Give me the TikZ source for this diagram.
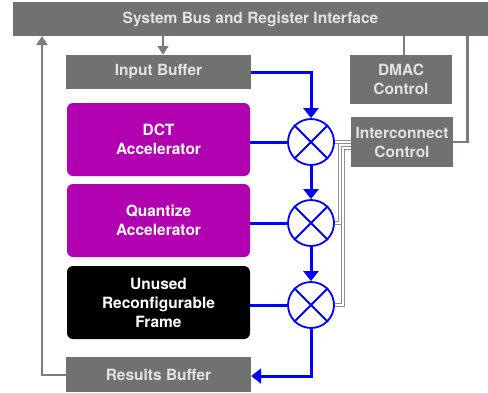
\documentclass[tikz,border=0pt]{standalone}
\usepackage{fontspec}
\setmainfont{TeX Gyre Heros}
\usetikzlibrary{arrows.meta}
\definecolor{boxgray}{HTML}{6F726E}
\definecolor{boxtext}{HTML}{E2E2E2}
\definecolor{accel}{HTML}{B000B0}
\definecolor{datablue}{HTML}{0000FF}
\definecolor{wiregray}{HTML}{7A7D79}
\definecolor{ctlgray}{HTML}{8E8E8E}
\tikzset{
  lbl/.style={font=\fontsize{15.5}{19}\selectfont\bfseries, align=center},
  graybox/.style={lbl, fill=boxgray, text=boxtext, inner sep=0pt},
  accbox/.style={lbl, fill=accel, text=white, rounded corners=6pt, inner sep=0pt,
    minimum width=183pt, minimum height=73pt},
  mux/.style={circle, draw=datablue, line width=1.8pt, fill=white, minimum size=46pt, inner sep=0pt},
  data/.style={draw=datablue, line width=3pt},
  dataarrow/.style={data, -{Triangle[length=10pt,width=15pt]}},
  wire/.style={draw=wiregray, line width=2.6pt},
  wirearrow/.style={wire, -{Triangle[length=9pt,width=11pt]}},
  ctl/.style={draw=ctlgray, line width=0.9pt, double=white, double distance=1.3pt}
}
\begin{document}
\begin{tikzpicture}[x=1pt,y=-1pt]
\useasboundingbox (0,0) rectangle (488,392);

% blocks
\node[graybox, minimum width=475pt, minimum height=34pt] (bus) at (250.5,19) {System Bus and Register Interface};
\node[graybox, minimum width=185pt, minimum height=34pt] (in) at (158.5,72) {Input Buffer};
\node[graybox, minimum width=185pt, minimum height=35pt] (res) at (158.5,374.5) {Results Buffer};
\node[graybox, minimum width=102pt, minimum height=49pt] (dmac) at (401,79.5) {DMAC\\Control};
\node[graybox, minimum width=102pt, minimum height=50pt] (ic) at (402,142) {Interconnect\\Control};

\node[accbox] (dct) at (158.5,139.5) {DCT\\Accelerator};
\node[accbox] (quant) at (158.5,220.5) {Quantize\\Accelerator};
\node[accbox, fill=black] (unused) at (158.5,302.5) {Unused\\Reconfigurable\\Frame};

% switching points
\foreach \n/\y in {c1/142, c2/223, c3/305}{
  \node[mux] (\n) at (311,\y) {};
  \draw[datablue, line width=1.8pt] (\n.north west) -- (\n.south east);
  \draw[datablue, line width=1.8pt] (\n.north east) -- (\n.south west);
}

% data path
\draw[dataarrow] (in.east) -| (c1.north);
\draw[data] (dct.east |- c1.west) -- (c1.west);
\draw[data] (quant.east |- c2.west) -- (c2.west);
\draw[data] (unused.east |- c3.west) -- (c3.west);
\draw[dataarrow] (c1.south) -- (c2.north);
\draw[dataarrow] (c2.south) -- (c3.north);
\coordinate (outcorner) at (311,376);
\draw[dataarrow] (c3.south) -- (outcorner) -- (res.east |- outcorner);

% bus connections
\draw[wirearrow] ([xshift=4.5pt]in.north |- bus.south) -- ([xshift=4.5pt]in.north);
\draw[wire] ([xshift=3pt]dmac.north |- bus.south) -- ([xshift=3pt]dmac.north);
\draw[wire] (ic.east) -| ([xshift=14pt]ic.east |- bus.south);
\coordinate (retx) at (42,36);
\draw[wirearrow] ([yshift=-0.5pt]res.west) -| (retx);

% control lines from the interconnect controller to the switching points
\coordinate (k1) at ([yshift=0pt]ic.west);
\coordinate (k2) at ([yshift=-3pt]ic.west);
\coordinate (k3) at ([yshift=-6pt]ic.west);
\coordinate (j2) at (340,145);
\coordinate (j3) at (343,148);
\draw[ctl] (c1.east) -- (k1);
\draw[ctl] (k2) -- (j2) |- (c2.east);
\draw[ctl] (k3) -- (j3) |- (c3.east);
\end{tikzpicture}
\end{document}
